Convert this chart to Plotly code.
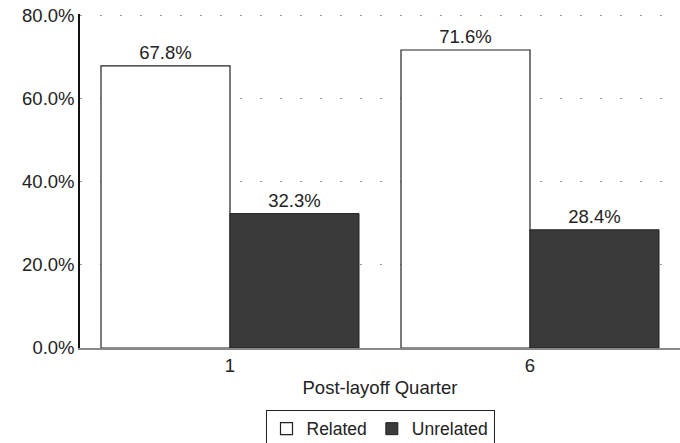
import plotly.graph_objects as go

categories = ["1", "6"]
related = [67.8, 71.6]
unrelated = [32.3, 28.4]
y_ticks = [0, 20, 40, 60, 80]
y_tick_labels = ["0.0%", "20.0%", "40.0%", "60.0%", "80.0%"]

FS = 18.5
font = dict(family="Liberation Sans, Arial, sans-serif", size=FS, color="#222")

fig = go.Figure()
fig.add_trace(go.Bar(
    x=categories, y=related, name="Related",
    marker=dict(color="white", line=dict(color="#222", width=1.2)),
    text=[f"{v:.1f}%" for v in related], textposition="outside",
    textfont=dict(size=FS, color="#222"), cliponaxis=False,
))
fig.add_trace(go.Bar(
    x=categories, y=unrelated, name="Unrelated",
    marker=dict(color="#3a3a3a", line=dict(color="#222", width=1)),
    text=[f"{v:.1f}%" for v in unrelated], textposition="outside",
    textfont=dict(size=FS, color="#222"), cliponaxis=False,
))

fig.update_layout(
    width=680, height=443,
    margin=dict(l=80, r=0, t=14, b=95, autoexpand=False),
    barmode="group", bargap=0.14, bargroupgap=0,
    plot_bgcolor="white", paper_bgcolor="white",
    font=font,
    showlegend=True,
    legend=dict(orientation="h", x=0.5, xanchor="center", y=-0.185, yanchor="top",
                bordercolor="#222", borderwidth=1, font=dict(size=17.5, color="#222"),
                itemwidth=30, tracegroupgap=0),
    xaxis=dict(
        type="category", range=[-0.5, 1.5], automargin=False,
        showline=True, linecolor="#888", linewidth=1.5,
        ticks="", tickfont=dict(size=FS, color="#222"),
        title=dict(text="Post-layoff Quarter", font=dict(size=FS, color="#222"), standoff=6),
    ),
    yaxis=dict(
        range=[0, 80.25], tickvals=y_ticks, ticktext=y_tick_labels, automargin=False,
        ticklabeloverflow="allow",
        showline=True, linecolor="#111", linewidth=1.5,
        showgrid=True, gridcolor="#999", griddash="2px,18px", gridwidth=1.2,
        zeroline=False, ticks="", ticklen=0, tickfont=dict(size=FS, color="#222"),
    ),
)

fig.write_html("out.html", config={"displayModeBar": False},
               post_script="document.body.style.margin='0';")
